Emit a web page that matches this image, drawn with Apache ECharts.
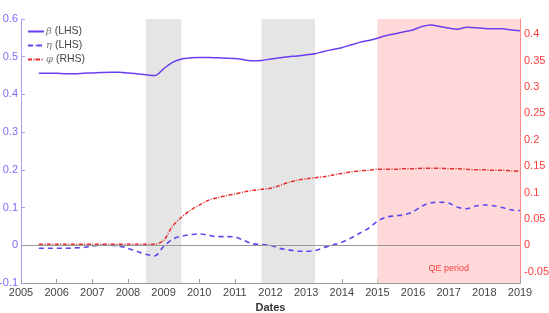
<!DOCTYPE html>
<html>
<head>
<meta charset="utf-8">
<script src="https://cdn.jsdelivr.net/npm/echarts@6/dist/echarts.min.js"></script>
<style>
  html, body { margin: 0; padding: 0; background: #fff; }
  #chart { width: 549px; height: 313px; }
</style>
</head>
<body>
<div id="chart"></div>
<script>
// quarterly dates (decimal years)
const dates = [
  2005.5, 2005.75, 2006, 2006.25, 2006.5, 2006.75, 2007, 2007.25, 2007.5, 2007.75,
  2008, 2008.25, 2008.5, 2008.75, 2009, 2009.25, 2009.5, 2009.75, 2010, 2010.25,
  2010.5, 2010.75, 2011, 2011.25, 2011.5, 2011.75, 2012, 2012.25, 2012.5, 2012.75,
  2013, 2013.25, 2013.5, 2013.75, 2014, 2014.25, 2014.5, 2014.75, 2015, 2015.25,
  2015.5, 2015.75, 2016, 2016.25, 2016.5, 2016.75, 2017, 2017.25, 2017.5, 2017.75,
  2018, 2018.25, 2018.5, 2018.75, 2019
];

const beta = [
  0.456, 0.456, 0.456, 0.455, 0.455, 0.456, 0.457, 0.458, 0.459, 0.459,
  0.457, 0.455, 0.452, 0.450, 0.468, 0.485, 0.494, 0.497, 0.498, 0.498,
  0.497, 0.496, 0.495, 0.492, 0.489, 0.490, 0.494, 0.497, 0.500, 0.502,
  0.505, 0.508, 0.514, 0.519, 0.524, 0.531, 0.538, 0.543, 0.549, 0.556,
  0.561, 0.566, 0.571, 0.580, 0.584, 0.580, 0.576, 0.573, 0.578, 0.577,
  0.575, 0.574, 0.574, 0.571, 0.569
];

const eta = [
  -0.008, -0.008, -0.008, -0.008, -0.007, -0.006, -0.002, 0.000, 0.000, -0.002,
  -0.008, -0.016, -0.024, -0.028, -0.003, 0.016, 0.024, 0.028, 0.030, 0.027,
  0.023, 0.023, 0.022, 0.013, 0.004, 0.002, 0.000, -0.008, -0.012, -0.015,
  -0.016, -0.014, -0.006, 0.001, 0.008, 0.019, 0.032, 0.045, 0.064, 0.075,
  0.078, 0.081, 0.089, 0.104, 0.113, 0.114, 0.112, 0.101, 0.097, 0.104,
  0.107, 0.105, 0.100, 0.094, 0.092
];

const phi = [
  0.002, 0.002, 0.002, 0.002, 0.002, 0.002, 0.002, 0.002, 0.002, 0.002,
  0.002, 0.002, 0.002, 0.002, 0.009, 0.036, 0.053, 0.066, 0.076, 0.085,
  0.090, 0.094, 0.097, 0.101, 0.104, 0.106, 0.108, 0.113, 0.119, 0.123,
  0.126, 0.128, 0.130, 0.133, 0.136, 0.139, 0.141, 0.142, 0.144, 0.144,
  0.144, 0.145, 0.145, 0.146, 0.146, 0.146, 0.145, 0.145, 0.144, 0.143,
  0.143, 0.142, 0.142, 0.141, 0.140
];

// shaded periods
const recessions = [[2008.5, 2009.5], [2011.75, 2013.25]];
const qePeriod = [2015, 2019];
const qeLabel = 'QE period';

const rightTicks = [-0.05, 0, 0.05, 0.1, 0.15, 0.2, 0.25, 0.3, 0.35, 0.4];

const leftColor = '#7b6cf2';
const rightColor = '#ff3b3b';

const chart = echarts.init(document.getElementById('chart'));

const zip = (ys) => dates.map((d, i) => [d, ys[i]]);

const option = {
  animation: false,
  textStyle: { fontFamily: 'Liberation Sans, Arial, sans-serif' },
  grid: { left: 21, right: 29, top: 19, bottom: 30, outerBoundsMode: 'none', containLabel: false },
  legend: {
    orient: 'vertical',
    left: 22,
    top: 21,
    itemWidth: 16,
    itemHeight: 2,
    itemGap: 3,
    data: ['β (LHS)', 'η (LHS)', 'φ (RHS)'],
    formatter: (name) => '{g|' + name.charAt(0) + '} (' + name.slice(3),
    textStyle: {
      fontSize: 10.5,
      color: '#444',
      padding: [0, 0, 0, -3],
      rich: {
        g: { fontFamily: 'DejaVu Serif', fontStyle: 'italic', fontSize: 10, color: '#777' }
      }
    }
  },
  xAxis: {
    type: 'value',
    min: 2005,
    max: 2019,
    interval: 1,
    name: 'Dates',
    nameLocation: 'middle',
    nameGap: 18,
    nameTextStyle: { fontSize: 11, fontWeight: 'bold', color: '#333' },
    axisLine: { onZero: false, lineStyle: { color: '#999', width: 1 } },
    axisTick: { inside: true, length: 4, lineStyle: { color: '#999' } },
    axisLabel: { fontSize: 11, color: '#444', margin: 4, formatter: (v) => String(v) },
    splitLine: { show: false }
  },
  yAxis: [
    {
      type: 'value',
      min: -0.1,
      max: 0.6,
      interval: 0.1,
      axisLine: { show: true, onZero: false, lineStyle: { color: '#a99ff5', width: 1 } },
      axisTick: { show: true, inside: true, length: 4, lineStyle: { color: '#a99ff5' } },
      axisLabel: { fontSize: 11, color: leftColor, margin: 3 },
      splitLine: { show: false }
    },
    {
      type: 'value',
      position: 'right',
      min: -0.5 / 7,
      max: 3 / 7,
      axisLine: { show: true, onZero: false, lineStyle: { color: '#ff8a8a', width: 1 } },
      axisTick: { show: true, inside: true, length: 4, customValues: rightTicks, lineStyle: { color: '#ff8a8a' } },
      axisLabel: { fontSize: 11, color: rightColor, margin: 4, customValues: rightTicks },
      splitLine: { show: false }
    }
  ],
  series: [
    {
      name: 'β (LHS)',
      type: 'line',
      yAxisIndex: 0,
      data: zip(beta),
      symbol: 'none',
      smooth: 0.3,
      z: 3,
      lineStyle: { color: '#6a3ff0', width: 1.5 },
      itemStyle: { color: '#6a3ff0' },
      markArea: {
        silent: true,
        itemStyle: { color: '#e5e5e5' },
        data: recessions.map((r) => [{ xAxis: r[0] }, { xAxis: r[1] }])
          .concat([[
            {
              xAxis: qePeriod[0],
              itemStyle: { color: '#ffd9d9' },
              label: {
                show: true,
                position: 'insideBottom',
                distance: 10,
                color: rightColor,
                fontSize: 9
              },
              name: qeLabel
            },
            { xAxis: qePeriod[1] }
          ]])
      }
    },
    {
      name: 'η (LHS)',
      type: 'line',
      yAxisIndex: 0,
      data: zip(eta),
      symbol: 'none',
      smooth: 0.3,
      z: 3,
      lineStyle: { color: '#5a48f0', width: 1.6, type: [5, 4] },
      itemStyle: { color: '#5a48f0' },
      markLine: {
        silent: true,
        symbol: 'none',
        label: { show: false },
        lineStyle: { color: '#999', width: 1, type: 'solid' },
        data: [{ yAxis: 0 }]
      }
    },
    {
      name: 'φ (RHS)',
      type: 'line',
      yAxisIndex: 1,
      data: zip(phi),
      symbol: 'none',
      smooth: 0.3,
      z: 3,
      lineStyle: { color: '#e52b2b', width: 1.5, type: [4, 1.5, 1, 1.5] },
      itemStyle: { color: '#e52b2b' }
    }
  ]
};

chart.setOption(option);
</script>
</body>
</html>
